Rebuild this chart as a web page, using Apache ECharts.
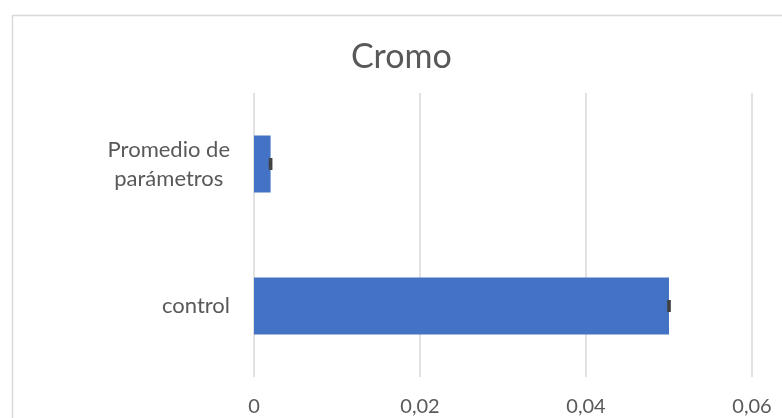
<!DOCTYPE html>
<html>
<head>
<meta charset="utf-8">
<script src="https://cdn.jsdelivr.net/npm/echarts@6/dist/echarts.min.js"></script>
<style>html,body{margin:0;padding:0;background:#fff}#c{width:782px;height:418px}</style>
</head>
<body>
<div id="c"></div>
<script>
const categories = ['control', 'Promedio de parámetros'];
const values = [0.05, 0.002];
const errors = [0.0001, 0.0001];
const xTicks = [0, 0.02, 0.04, 0.06];

const chart = echarts.init(document.getElementById('c'));
const FONT = 'Lato';
chart.setOption({
  animation: false,
  backgroundColor: '#fff',
  title: {
    text: 'Cromo', left: 346, top: 35,
    textStyle: { fontFamily: FONT, fontSize: 34, fontWeight: 'normal', color: '#595959' }
  },
  graphic: [{
    type: 'rect', left: 10, top: 13, z: -1,
    shape: { width: 800, height: 430 },
    style: { fill: 'none', stroke: '#d9d9d9', lineWidth: 1.5 }
  }],
  grid: { left: 254, right: 30, top: 93, bottom: 41 },
  xAxis: {
    type: 'value', min: xTicks[0], max: xTicks[xTicks.length - 1], interval: 0.02,
    axisLine: { show: false }, axisTick: { show: false },
    splitLine: { show: true, lineStyle: { color: '#d9d9d9', width: 1.5 } },
    axisLabel: {
      fontFamily: FONT, fontSize: 20, color: '#595959', margin: 20,
      formatter: v => String(+v.toFixed(2)).replace('.', ',')
    }
  },
  yAxis: {
    type: 'category', data: categories,
    axisLine: { show: false }, axisTick: { show: false },
    axisLabel: {
      fontFamily: FONT, fontSize: 22, color: '#595959', margin: 24, lineHeight: 29,
      formatter: v => {
        const parts = v === 'Promedio de parámetros' ? ['Promedio de', 'parámetros'] : [v];
        return parts.map(p => '{a|' + p + '}').join('\n');
      },
      rich: { a: { align: 'center', fontFamily: FONT, fontSize: 22, color: '#595959', lineHeight: 29 } }
    }
  },
  series: [{
    type: 'bar', data: values, barWidth: '40%',
    itemStyle: { color: '#4472c4' }
  }, {
    type: 'custom',
    data: values.map((v, i) => [i, v, errors[i]]),
    encode: { x: 1, y: 0 },
    z: 5,
    renderItem: (params, api) => {
      const i = api.value(0), v = api.value(1), e = api.value(2);
      const p1 = api.coord([v - e, i]);
      const p2 = api.coord([v + e, i]);
      const h = 6;
      const st = { stroke: '#404040', lineWidth: 2 };
      return {
        type: 'group', children: [
          { type: 'line', shape: { x1: p1[0], y1: p1[1], x2: p2[0], y2: p2[1] }, style: st },
          { type: 'line', shape: { x1: p1[0], y1: p1[1] - h, x2: p1[0], y2: p1[1] + h }, style: st },
          { type: 'line', shape: { x1: p2[0], y1: p2[1] - h, x2: p2[0], y2: p2[1] + h }, style: st }
        ]
      };
    }
  }]
});
</script>
</body>
</html>
